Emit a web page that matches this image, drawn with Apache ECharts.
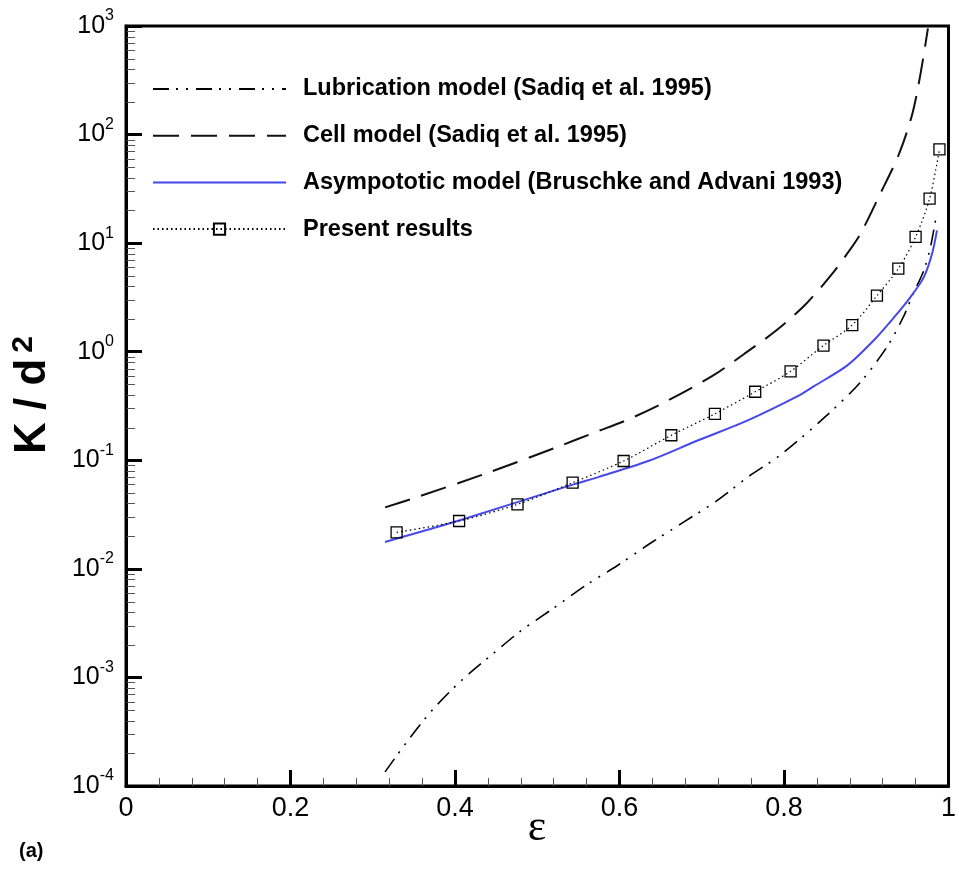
<!DOCTYPE html>
<html>
<head>
<meta charset="utf-8">
<script src="https://cdn.jsdelivr.net/npm/echarts@6/dist/echarts.min.js"></script>
<style>
html,body{margin:0;padding:0;background:#fff;}
#c{width:959px;height:872px;}
</style>
</head>
<body>
<div id="c"></div>
<script>
// ---- data ----
const lubEps = [0.315, 0.343, 0.374, 0.408, 0.444, 0.481, 0.519, 0.559, 0.598, 0.638, 0.675, 0.719, 0.756, 0.795, 0.852, 0.893, 0.925, 0.945, 0.957, 0.970, 0.978, 0.985];
const lubK   = [1.35e-4, 2.64e-4, 5.16e-4, 9.4e-4, 1.60e-3, 2.72e-3, 4.30e-3, 7.05e-3, 1.08e-2, 1.73e-2, 2.61e-2, 4.27e-2, 7.0e-2, 0.111, 0.259, 0.525, 1.10, 2.08, 3.4, 5.61, 9.18, 17.6];

const cellEps = [0.315, 0.348, 0.437, 0.526, 0.571, 0.608, 0.655, 0.714, 0.752, 0.792, 0.827, 0.857, 0.877, 0.893, 0.917, 0.940, 0.956, 0.966, 0.975];
const cellK   = [0.0368, 0.0443, 0.0753, 0.134, 0.182, 0.233, 0.343, 0.605, 0.959, 1.60, 2.77, 5.04, 8.04, 12.2, 28.5, 66.6, 155, 363, 950];

const asymEps = [0.315, 0.406, 0.544, 0.574, 0.635, 0.695, 0.756, 0.816, 0.836, 0.877, 0.909, 0.934, 0.954, 0.970, 0.980, 0.986];
const asymK   = [0.0177, 0.0280, 0.060, 0.070, 0.0984, 0.152, 0.233, 0.387, 0.479, 0.748, 1.27, 2.08, 3.2, 4.86, 7.98, 13.1];

const presEps = [0.329, 0.405, 0.476, 0.543, 0.605, 0.663, 0.716, 0.765, 0.808, 0.848, 0.883, 0.913, 0.939, 0.960, 0.977, 0.989];
const presK   = [0.0217, 0.0276, 0.0393, 0.0622, 0.0985, 0.170, 0.268, 0.428, 0.660, 1.14, 1.76, 3.28, 5.82, 11.4, 25.7, 73.2];

const seriesNames = [
  'Lubrication model (Sadiq et al. 1995)',
  'Cell model (Sadiq et al. 1995)',
  'Asympototic model (Bruschke and Advani 1993)',
  'Present results'
];
const xTicks = [0, 0.2, 0.4, 0.6, 0.8, 1];
const yMin = 1e-4, yMax = 1e3;
// ---------------------------------------

function zip(a, b) { return a.map((v, i) => [v, b[i]]); }

const FONT = "'Liberation Sans', Arial, sans-serif";
const chart = echarts.init(document.getElementById('c'), null, {renderer: 'canvas'});

const hiddenDot = {opacity: 0};
const option = {
  animation: false,
  backgroundColor: '#fff',
  grid: {left: 126, right: 7, top: 26, bottom: 86, show: true, borderColor: '#000', borderWidth: 3, backgroundColor: 'transparent'},
  legend: {
    orient: 'vertical', left: 152, top: 77, itemWidth: 133, itemHeight: 14, itemGap: 22.7,
    padding: 0, selectedMode: false,
    data: [
      {name: seriesNames[0], itemStyle: hiddenDot},
      {name: seriesNames[1], itemStyle: hiddenDot},
      {name: seriesNames[2], itemStyle: hiddenDot},
      {name: seriesNames[3]}
    ],
    textStyle: {fontFamily: FONT, fontWeight: 'bold', fontSize: 23.5, color: '#000', padding: [0, 0, 0, 12]}
  },
  xAxis: {
    type: 'value', min: 0, max: 1, interval: 0.2,
    axisLine: {lineStyle: {color: '#000', width: 3}},
    axisTick: {inside: true, length: 16, lineStyle: {color: '#000', width: 3}},
    minorTick: {show: true, splitNumber: 5, length: 8, lineStyle: {color: '#555', width: 1}},
    splitLine: {show: false},
    axisLabel: {fontFamily: FONT, fontSize: 27, color: '#000', margin: 9,
      formatter: v => { const t = xTicks.find(x => Math.abs(x - v) < 1e-9); return t === undefined ? '' : String(t); }}
  },
  yAxis: {
    type: 'log', logBase: 10, min: yMin, max: yMax, splitNumber: 7,
    axisLine: {lineStyle: {color: '#000', width: 3}},
    axisTick: {inside: true, length: 16, lineStyle: {color: '#000', width: 3}},
    splitLine: {show: false},
    axisLabel: {
      margin: 12, color: '#000',
      formatter: v => '{a|10}{b|' + Math.round(Math.log10(v)) + '}',
      rich: {
        a: {fontFamily: FONT, fontSize: 25, lineHeight: 36, color: '#000', verticalAlign: 'middle'},
        b: {fontFamily: FONT, fontSize: 16, lineHeight: 16, color: '#000', verticalAlign: 'top'}
      }
    }
  },
  series: [
    {name: seriesNames[0], type: 'line', data: zip(lubEps, lubK), symbol: 'none', smooth: 0.3,
     lineStyle: {color: '#000', width: 1.6, type: [16, 7, 2, 8, 2, 8]}, itemStyle: {color: '#000'}, z: 2},
    {name: seriesNames[1], type: 'line', data: zip(cellEps, cellK), symbol: 'none', smooth: 0.3,
     lineStyle: {color: '#111', width: 2, type: [26, 12]}, itemStyle: {color: '#111'}, z: 2},
    {name: seriesNames[2], type: 'line', data: zip(asymEps, asymK), symbol: 'none', smooth: 0.3,
     lineStyle: {color: '#4747ee', width: 2, type: 'solid'}, itemStyle: {color: '#4747ee'}, z: 3},
    {name: seriesNames[3], type: 'line', data: zip(presEps, presK), symbol: 'rect', symbolSize: 11, smooth: 0.3,
     lineStyle: {color: '#000', width: 1.2, type: [1.5, 3]},
     itemStyle: {color: 'rgba(255,255,255,0)', borderColor: '#000', borderWidth: 1.3}, z: 4}
  ]
};
chart.setOption(option);

// log minor ticks (2..9 per decade) and text elements
const g = [];
const x0 = chart.convertToPixel({xAxisIndex: 0}, 0);
for (let d = -4; d < 3; d++) {
  for (let m = 2; m <= 9; m++) {
    const y = Math.round(chart.convertToPixel({yAxisIndex: 0}, m * Math.pow(10, d))) + 0.5;
    g.push({type: 'line', shape: {x1: x0 + 1, y1: y, x2: x0 + 9, y2: y}, style: {stroke: '#555', lineWidth: 1}, silent: true, z: 10});
  }
}
g.push({
  type: 'text', x: 33, y: 395, rotation: Math.PI / 2, silent: true,
  style: {
    text: '{a|K / d}{b|2}', align: 'center', verticalAlign: 'middle',
    rich: {
      a: {fontFamily: FONT, fontWeight: 'bold', fontSize: 44, lineHeight: 48, fill: '#000', verticalAlign: 'middle'},
      b: {fontFamily: FONT, fontWeight: 'bold', fontSize: 30, lineHeight: 30, fill: '#000', verticalAlign: 'top', padding: [0, 0, 0, 6]}
    }
  }
});
g.push({type: 'text', x: 537, y: 828, silent: true,
  style: {text: 'ε', fontFamily: "'Liberation Serif', 'Times New Roman', serif", fontSize: 44, fill: '#000', align: 'center', verticalAlign: 'middle'}});
g.push({type: 'text', x: 19, y: 851, silent: true,
  style: {text: '(a)', fontFamily: FONT, fontWeight: 'bold', fontSize: 20, fill: '#000', align: 'left', verticalAlign: 'middle'}});
chart.setOption({graphic: g});
</script>
</body>
</html>
